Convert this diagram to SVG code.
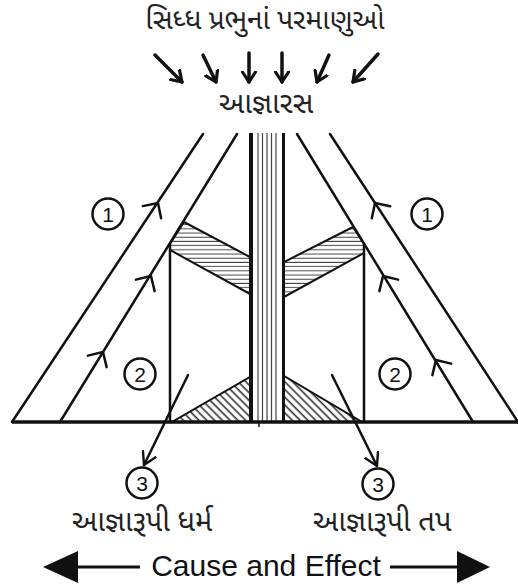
<svg xmlns="http://www.w3.org/2000/svg" width="518" height="584" viewBox="0 0 518 584">
<style>
.ln{stroke:#111;stroke-width:2.5;fill:none;stroke-linecap:round}
.thin{stroke:#444;stroke-width:1.2;fill:none}
.chev{stroke:#111;stroke-width:2.5;fill:none;stroke-linecap:round;stroke-linejoin:round}
.circ{stroke:#111;stroke-width:2.5;fill:#fff}
.num{font-family:"Liberation Sans",Arial,sans-serif;font-size:21px;fill:#111;text-anchor:middle}
.guj{font-family:"Noto Sans Gujarati","Lohit Gujarati","Noto Sans",sans-serif;fill:#222;text-anchor:middle}
.top{stroke:#111;stroke-width:3.5;fill:none;stroke-linecap:round}
</style>
<defs>
<pattern id="hz" patternUnits="userSpaceOnUse" width="8" height="4.2">
<line x1="0" y1="2" x2="8" y2="2" stroke="#444" stroke-width="1"/>
</pattern>
<pattern id="dg" patternUnits="userSpaceOnUse" width="8" height="5.5" patternTransform="rotate(45)">
<line x1="0" y1="2.5" x2="8" y2="2.5" stroke="#333" stroke-width="1.6"/>
</pattern>
<marker id="ah" markerWidth="14" markerHeight="16" refX="11" refY="8" orient="auto" markerUnits="userSpaceOnUse">
<path d="M1,1.5 L11,8 L1,14.5" fill="none" stroke="#111" stroke-width="3.2" stroke-linecap="round" stroke-linejoin="round"/>
</marker>
<marker id="ah3" markerWidth="16" markerHeight="16" refX="13" refY="8" orient="auto" markerUnits="userSpaceOnUse">
<path d="M1,1 L13,8 L1,15" fill="none" stroke="#111" stroke-width="2.4" stroke-linecap="round" stroke-linejoin="round"/>
</marker>
<path id="chev" d="M-11,11 L0,0 L11,11"/>
</defs>

<g id="title">
<text class="guj" x="265" y="29" font-size="28">સિધ્ધ પ્રભુનાં પરમાણુઓ</text>
</g>

<g id="top-arrows">
<line class="top" x1="155" y1="55" x2="182" y2="82" marker-end="url(#ah)"/>
<line class="top" x1="203" y1="55" x2="216" y2="82" marker-end="url(#ah)"/>
<line class="top" x1="249" y1="53" x2="249" y2="82" marker-end="url(#ah)"/>
<line class="top" x1="282" y1="53" x2="282" y2="82" marker-end="url(#ah)"/>
<line class="top" x1="329" y1="55" x2="317" y2="82" marker-end="url(#ah)"/>
<line class="top" x1="378" y1="54" x2="353" y2="82" marker-end="url(#ah)"/>
</g>

<g id="agnaras">
<text class="guj" x="266" y="113" font-size="29">આજ્ઞારસ</text>
</g>

<g id="hatch-quads">
<polygon points="184,222 250,257 250,294 170,250 170,244" fill="url(#hz)" stroke="#111" stroke-width="2"/>
<polygon points="353,227 284,262 284,297 364,253 364,244" fill="url(#hz)" stroke="#111" stroke-width="2"/>
</g>

<g id="hatch-triangles">
<polygon points="250,377 250,422 172,422" fill="url(#dg)" stroke="#111" stroke-width="2"/>
<polygon points="284,376 284,422 362,422" fill="url(#dg)" stroke="#111" stroke-width="2"/>
</g>

<g id="column">
<rect x="250" y="133" width="34" height="289" fill="#fff"/>
<line class="thin" x1="258" y1="133" x2="258" y2="422"/>
<line class="thin" x1="262.5" y1="133" x2="262.5" y2="422"/>
<line class="thin" x1="267" y1="133" x2="267" y2="422"/>
<line class="thin" x1="271.5" y1="133" x2="271.5" y2="422"/>
<line class="thin" x1="276" y1="133" x2="276" y2="422"/>
<line x1="251" y1="133" x2="251" y2="422" stroke="#111" stroke-width="4"/>
<line x1="283.5" y1="133" x2="283.5" y2="422" stroke="#111" stroke-width="3"/>
</g>

<g id="connectors">
<line class="ln" x1="12" y1="422" x2="203" y2="134"/>
<line class="ln" x1="60" y1="422" x2="237" y2="134"/>
<line class="ln" x1="518" y1="422" x2="330" y2="134"/>
<line class="ln" x1="473" y1="422" x2="297" y2="134"/>
<line class="ln" x1="170" y1="244" x2="170" y2="422"/>
<line class="ln" x1="364" y1="244" x2="364" y2="422"/>
<line x1="12" y1="422" x2="518" y2="422" stroke="#111" stroke-width="3.5"/>
<line x1="259" y1="422" x2="259" y2="427" stroke="#111" stroke-width="1.5"/>
<line class="ln" x1="188" y1="375" x2="144" y2="465" marker-end="url(#ah3)"/>
<line class="ln" x1="332" y1="375" x2="377" y2="466" marker-end="url(#ah3)"/>
<use href="#chev" class="chev" transform="translate(158,203) rotate(33.5)"/>
<use href="#chev" class="chev" transform="translate(151,276) rotate(31.5)"/>
<use href="#chev" class="chev" transform="translate(103,352) rotate(31.5)"/>
<use href="#chev" class="chev" transform="translate(375,203) rotate(-33.2)"/>
<use href="#chev" class="chev" transform="translate(383,276) rotate(-31.5)"/>
<use href="#chev" class="chev" transform="translate(436,360) rotate(-31.5)"/>
</g>

<g id="n1-left"><circle class="circ" cx="108" cy="214" r="15.5"/><text class="num" x="108" y="221.5">1</text></g>
<g id="n1-right"><circle class="circ" cx="427" cy="214" r="15.5"/><text class="num" x="427" y="221.5">1</text></g>
<g id="n2-left"><circle class="circ" cx="140" cy="374" r="15.5"/><text class="num" x="140" y="381.5">2</text></g>
<g id="n2-right"><circle class="circ" cx="395" cy="374" r="15.5"/><text class="num" x="395" y="381.5">2</text></g>
<g id="n3-left"><circle class="circ" cx="142" cy="483" r="15.5"/><text class="num" x="142" y="490.5">3</text></g>
<g id="n3-right"><circle class="circ" cx="378" cy="484" r="15.5"/><text class="num" x="378" y="491.5">3</text></g>

<g id="label-dharma"><text class="guj" x="142" y="531" font-size="29">આજ્ઞારૂપી ધર્મ</text></g>
<g id="label-tap"><text class="guj" x="382" y="531" font-size="29">આજ્ઞારૂપી તપ</text></g>

<g id="cause-effect">
<line x1="76" y1="567" x2="140" y2="567" stroke="#111" stroke-width="3"/>
<polygon points="43,567 78,551 78,583" fill="#111"/>
<line x1="390" y1="567" x2="459" y2="567" stroke="#111" stroke-width="3"/>
<polygon points="490,567 457,551 457,583" fill="#111"/>
<text x="266" y="576" font-family="'Liberation Sans',Arial,sans-serif" font-size="30" fill="#111" text-anchor="middle">Cause and Effect</text>
</g>
</svg>
